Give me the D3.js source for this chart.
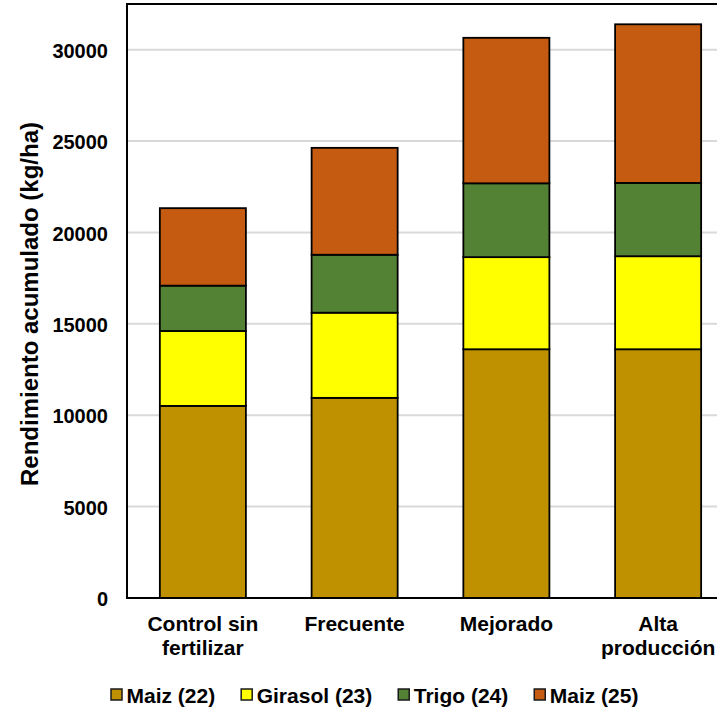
<!DOCTYPE html>
<html>
<head>
<meta charset="utf-8">
<script src="https://cdn.jsdelivr.net/npm/d3@7"></script>
<style>
  html, body { margin: 0; padding: 0; background: #fff; }
  svg { display: block; font-family: "Liberation Sans", Arial, sans-serif; }
</style>
</head>
<body>
<svg id="chart" width="717" height="708"></svg>
<script>
const categories = [["Control sin", "fertilizar"], ["Frecuente"], ["Mejorado"], ["Alta", "producción"]];
const seriesNames = ["Maiz (22)", "Girasol (23)", "Trigo (24)", "Maiz (25)"];
const maiz22 = [10510, 10950, 13610, 13610];
const girasol23 = [4100, 4660, 5040, 5090];
const trigo24 = [2480, 3170, 4040, 4010];
const maiz25 = [4240, 5850, 7960, 8680];
const yTicks = [0, 5000, 10000, 15000, 20000, 25000, 30000];
const colors = ["#BF9000", "#FFFF00", "#548235", "#C55A11"];

(function () {
const svg = d3.select("#chart");
const pLeft = 127, pRight = 734, pTop = 4, pBottom = 598;

const catKeys = categories.map(c => c.join(" "));
const x = d3.scaleBand().domain(catKeys).range([pLeft, pRight]).paddingInner(0.433).paddingOuter(0.2165);
const y = d3.scaleLinear().domain([0, 32500]).range([pBottom, pTop]);

const rows = catKeys.map((k, i) => ({ key: k, s0: maiz22[i], s1: girasol23[i], s2: trigo24[i], s3: maiz25[i] }));
const stack = d3.stack().keys(["s0", "s1", "s2", "s3"])(rows);

// gridlines
svg.append("g").selectAll("line").data(yTicks.filter(t => t > 0)).join("line")
  .attr("x1", pLeft).attr("x2", pRight)
  .attr("y1", d => y(d)).attr("y2", d => y(d))
  .attr("stroke", "#d9d9d9").attr("stroke-width", 2);

// bars
svg.append("g").selectAll("g").data(stack).join("g")
  .attr("fill", (d, i) => colors[i])
  .selectAll("rect").data(d => d).join("rect")
  .attr("x", d => x(d.data.key))
  .attr("width", x.bandwidth())
  .attr("y", d => y(d[1]))
  .attr("height", d => y(d[0]) - y(d[1]))
  .attr("stroke", "#000").attr("stroke-width", 1.8);

// frame
svg.append("rect").attr("x", pLeft).attr("y", pTop).attr("width", pRight - pLeft).attr("height", pBottom - pTop)
  .attr("fill", "none").attr("stroke", "#000").attr("stroke-width", 2);

// y axis labels
const yAxis = d3.axisLeft(y).tickValues(yTicks).tickSize(0).tickPadding(19).tickFormat(d3.format("d"));
const ya = svg.append("g").attr("transform", `translate(${pLeft},0)`).call(yAxis);
ya.select(".domain").remove();
ya.selectAll("text").attr("font-size", 20).attr("font-weight", "bold").attr("fill", "#000")
  .attr("font-family", "'Liberation Sans', Arial, sans-serif").attr("dy", "0.38em");

// x labels
const xl = svg.append("g");
categories.forEach((lines, i) => {
  const cx = x(catKeys[i]) + x.bandwidth() / 2;
  lines.forEach((ln, j) => {
    xl.append("text").attr("x", cx).attr("y", 631 + j * 24)
      .attr("text-anchor", "middle").attr("font-size", 21).attr("font-weight", "bold").attr("fill", "#000")
      .text(ln);
  });
});

// y title
svg.append("text").attr("transform", "translate(38,304) rotate(-90)")
  .attr("text-anchor", "middle").attr("font-size", 24).attr("font-weight", "bold").attr("fill", "#000")
  .text("Rendimiento acumulado (kg/ha)");

// legend
const lg = svg.append("g");
let lx = 111;
seriesNames.forEach((name, i) => {
  lg.append("rect").attr("x", lx).attr("y", 689).attr("width", 11).attr("height", 11)
    .attr("fill", colors[i]).attr("stroke", "#1a1a1a").attr("stroke-width", 1.5);
  const t = lg.append("text").attr("x", lx + 15.5).attr("y", 702.5)
    .attr("font-size", 21).attr("font-weight", "bold").attr("fill", "#000").text(name);
  const w = t.node().getComputedTextLength();
  lx = lx + 15.5 + w + 26;
});
})();
</script>
</body>
</html>
